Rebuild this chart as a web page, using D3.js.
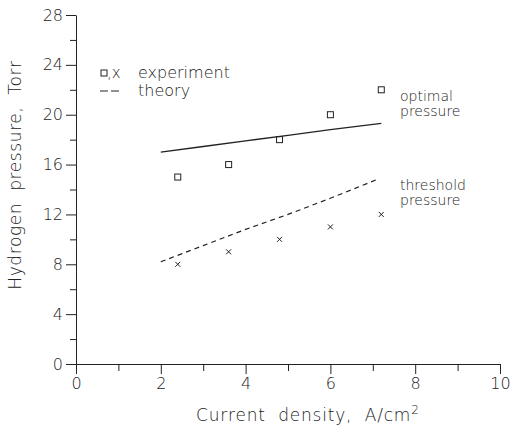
<!DOCTYPE html>
<html>
<head>
<meta charset="utf-8">
<script src="https://cdn.jsdelivr.net/npm/d3@7"></script>
<style>
  body { margin: 0; background: #fff; }
  text { font-family: "DejaVu Sans", sans-serif; font-weight: 200; fill: #222; }
</style>
</head>
<body>
<svg id="chart" width="513" height="435"></svg>
<script>
// experiment points (current density, A/cm^2)
const expX = [2.4, 3.6, 4.8, 6.0, 7.2];
const optimalExp = [15, 16, 18, 20, 22];
const thresholdExp = [8, 9, 10, 11, 12];

// theory curves
const optimalTheory = [[2, 17.0], [3, 17.45], [4, 17.9], [5, 18.35], [6, 18.8], [7.2, 19.3]];
const thresholdTheory = [[2, 8.2], [3, 9.5], [4, 10.8], [5, 12.0], [6, 13.3], [7.1, 14.8]];

const xTicks = [0, 2, 4, 6, 8, 10];
const yTicks = [0, 4, 8, 12, 16, 20, 24, 28];

const svg = d3.select('#chart');
const ink = '#222';

const x = d3.scaleLinear().domain([0, 10]).range([76, 500]);
const y = d3.scaleLinear().domain([0, 28]).range([364, 15]);

// axes
svg.append('g').attr('transform', `translate(0,${y(0)})`)
  .call(d3.axisBottom(x).tickValues(xTicks).tickSize(10).tickPadding(4).tickSizeOuter(0));
svg.append('g').attr('transform', `translate(0,${y(0)})`)
  .call(d3.axisBottom(x).tickValues(d3.range(1, 10, 2)).tickSize(7).tickFormat('').tickSizeOuter(0))
  .select('.domain').remove();

svg.append('g').attr('transform', `translate(${x(0)},0)`)
  .call(d3.axisLeft(y).tickValues(yTicks).tickSize(10).tickPadding(3).tickSizeOuter(0));
svg.append('g').attr('transform', `translate(${x(0)},0)`)
  .call(d3.axisLeft(y).tickValues(d3.range(2, 28, 4)).tickSize(6).tickFormat('').tickSizeOuter(0))
  .select('.domain').remove();

svg.selectAll('.domain, .tick line').attr('stroke', ink).attr('stroke-width', 1);
svg.selectAll('.tick text').attr('font-size', 16).attr('font-family', 'DejaVu Sans')
  .attr('font-weight', 200).attr('fill', ink);

// axis titles
svg.append('text')
  .attr('x', 196).attr('y', 421)
  .attr('font-size', 17).attr('letter-spacing', 0.8).style('white-space', 'pre')
  .html('Current  density,  A/cm<tspan dy="-7" font-size="12">2</tspan>');

svg.append('text')
  .attr('transform', `translate(21,175) rotate(-90)`)
  .attr('text-anchor', 'middle').attr('font-size', 17).attr('letter-spacing', 0.6)
  .style('white-space', 'pre')
  .text('Hydrogen  pressure,  Torr');

// theory lines
const line = d3.line().x(d => x(d[0])).y(d => y(d[1]));
svg.append('path').datum(optimalTheory).attr('d', line)
  .attr('fill', 'none').attr('stroke', ink).attr('stroke-width', 1.3);
svg.append('path').datum(thresholdTheory).attr('d', line)
  .attr('fill', 'none').attr('stroke', ink).attr('stroke-width', 1.2)
  .attr('stroke-dasharray', '5,4');

// experiment markers
svg.selectAll('rect.opt').data(expX).enter().append('rect')
  .attr('class', 'opt')
  .attr('x', (d) => x(d) - 3).attr('y', (d, i) => y(optimalExp[i]) - 3)
  .attr('width', 6).attr('height', 6)
  .attr('fill', 'none').attr('stroke', ink).attr('stroke-width', 1);

const cross = svg.selectAll('g.thr').data(expX).enter().append('g')
  .attr('class', 'thr')
  .attr('transform', (d, i) => `translate(${x(d)},${y(thresholdExp[i])})`);
cross.append('path').attr('d', 'M-2.5,-2.5L2.5,2.5M-2.5,2.5L2.5,-2.5')
  .attr('stroke', ink).attr('stroke-width', 1);

// legend
svg.append('rect').attr('x', 101).attr('y', 70).attr('width', 6).attr('height', 6)
  .attr('fill', 'none').attr('stroke', ink);
svg.append('text').attr('x', 107).attr('y', 78).attr('font-size', 15).text(',x');
svg.append('text').attr('x', 138).attr('y', 78).attr('font-size', 16).text('experiment');
svg.append('line').attr('x1', 100).attr('x2', 119).attr('y1', 91).attr('y2', 91)
  .attr('stroke', ink).attr('stroke-dasharray', '8,3');
svg.append('text').attr('x', 138).attr('y', 96).attr('font-size', 16).text('theory');

// curve labels
const labels = [['optimal', 101], ['pressure', 116], ['threshold', 190], ['pressure', 205]];
svg.selectAll('text.lab').data(labels).enter().append('text')
  .attr('class', 'lab').attr('x', 400).attr('y', d => d[1])
  .attr('font-size', 14).text(d => d[0]);
</script>
</body>
</html>
